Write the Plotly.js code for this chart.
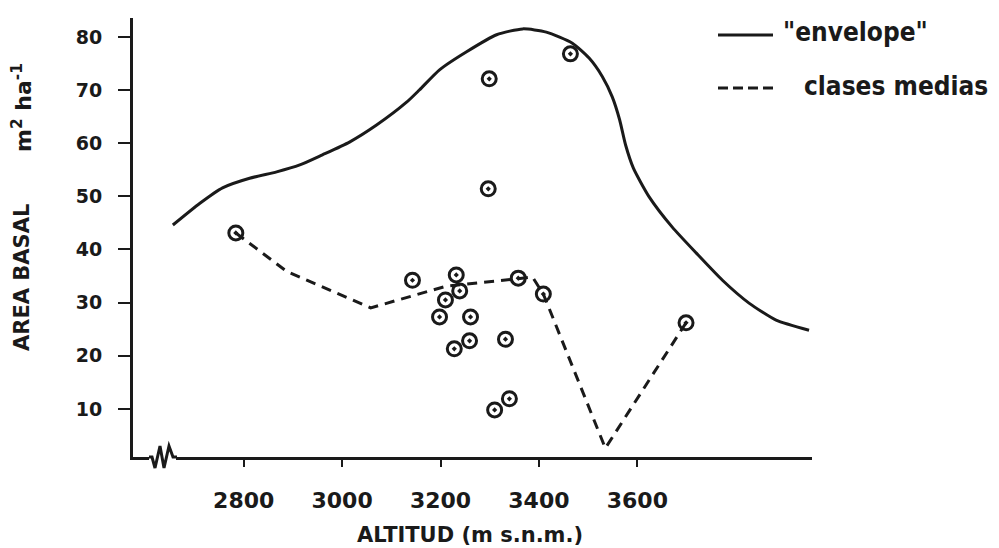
<!DOCTYPE html>
<html>
<head>
<meta charset="utf-8">
<script src="https://cdn.plot.ly/plotly-3.0.1.min.js"></script>
<style>html,body{margin:0;padding:0;background:#fff;}#chart{width:999px;height:548px;}</style>
</head>
<body>
<div id="chart"></div>
<script>
// "envelope" curve (altitude, basal area)
const envelopeX = [2656, 2711, 2757, 2812, 2867, 2914, 2960, 3015, 3070, 3131, 3157, 3198, 3253, 3314, 3367, 3415, 3468, 3502, 3529, 3549, 3564, 3576, 3592, 3624, 3671, 3720, 3773, 3827, 3882, 3949];
const envelopeY = [44.6, 48.7, 51.6, 53.4, 54.6, 55.9, 57.8, 60.2, 63.4, 67.7, 70.0, 73.8, 77.2, 80.4, 81.5, 80.9, 78.8, 76.0, 72.5, 68.7, 64.4, 59.7, 55.3, 49.9, 44.2, 39.3, 34.2, 29.9, 26.7, 24.8];

// "clases medias" dashed line
const mediasX = [2784, 2887, 3058, 3212, 3320, 3387, 3409, 3535, 3699];
const mediasY = [43.1, 35.9, 29.0, 33.1, 34.1, 34.8, 31.6, 2.6, 26.2];

// observed plots
const plotsX = [2784, 3299, 3464, 3297, 3143, 3232, 3239, 3210, 3198, 3261, 3358, 3409, 3228, 3259, 3332, 3340, 3310, 3699];
const plotsY = [43.1, 72.1, 76.8, 51.4, 34.2, 35.2, 32.2, 30.5, 27.3, 27.3, 34.6, 31.6, 21.3, 22.8, 23.1, 11.9, 9.8, 26.2];

const xTicks = [2800, 3000, 3200, 3400, 3600];
const yTicks = [10, 20, 30, 40, 50, 60, 70, 80];

const ink = '#1a1a1a';
const font = 'DejaVu Sans, sans-serif';

const traces = [
  {x: envelopeX, y: envelopeY, mode: 'lines', line: {color: ink, width: 3, shape: 'spline', smoothing: 0.6}, hoverinfo: 'skip'},
  {x: mediasX, y: mediasY, mode: 'lines', line: {color: ink, width: 3, dash: '10px,7px'}, hoverinfo: 'skip'},
  {x: plotsX, y: plotsY, mode: 'markers', marker: {symbol: 'circle-open-dot', size: 14, color: ink, line: {color: ink, width: 3}}, hoverinfo: 'skip'}
];

function px(x){ return (x-133)/679; }
function py(y){ return (457-y)/439; }

const layout = {
  width: 999, height: 548,
  margin: {l: 133, r: 187, t: 18, b: 91},
  paper_bgcolor: '#fff', plot_bgcolor: '#fff',
  showlegend: false,
  xaxis: {
    range: [2575, 3955], tickvals: xTicks, ticktext: xTicks.map(String),
    showline: true, linewidth: 3, linecolor: ink, zeroline: false, showgrid: false,
    ticks: 'outside', ticklen: 7, tickwidth: 2, tickcolor: ink,
    ticklabelstandoff: 15,
    tickfont: {family: font, size: 22, color: ink, weight: 'bold'}
  },
  yaxis: {
    range: [0.94, 83.55], tickvals: yTicks, ticktext: yTicks.map(String),
    showline: true, linewidth: 3, linecolor: ink, zeroline: false, showgrid: false,
    ticks: 'outside', ticklen: 12, tickwidth: 2, tickcolor: ink,
    ticklabelstandoff: 12,
    tickfont: {family: font, size: 19, color: ink, weight: 'bold'}
  },
  shapes: [
    // axis break
    {type: 'line', xref: 'paper', yref: 'paper', x0: px(149), x1: px(176), y0: 0, y1: 0, line: {color: '#fff', width: 6}, layer: 'above'},
    {type: 'path', xref: 'paper', yref: 'paper', layer: 'above',
     path: 'M ' + px(149) + ',' + py(457) + ' L ' + px(152) + ',' + py(457) + ' L ' + px(155) + ',' + py(468) + ' L ' + px(160) + ',' + py(446) + ' L ' + px(164) + ',' + py(468) + ' L ' + px(169) + ',' + py(446) + ' L ' + px(173) + ',' + py(457) + ' L ' + px(177) + ',' + py(457),
     line: {color: ink, width: 3}},
    // legend lines
    {type: 'line', xref: 'paper', yref: 'paper', x0: px(718), x1: px(773), y0: py(35), y1: py(35), line: {color: ink, width: 3}},
    {type: 'line', xref: 'paper', yref: 'paper', x0: px(718), x1: px(773), y0: py(88), y1: py(88), line: {color: ink, width: 3, dash: '10px,5px'}}
  ],
  annotations: [
    {xref: 'paper', yref: 'paper', x: px(781), y: py(32), xanchor: 'left', yanchor: 'middle', showarrow: false,
     text: '"envelope"', font: {family: 'DejaVu Sans Condensed, DejaVu Sans, sans-serif', size: 26, color: ink, weight: 'bold'}},
    {xref: 'paper', yref: 'paper', x: px(802), y: py(86), xanchor: 'left', yanchor: 'middle', showarrow: false,
     text: 'clases medias', font: {family: 'DejaVu Sans Condensed, DejaVu Sans, sans-serif', size: 26, color: ink, weight: 'bold'}},
    {xref: 'paper', yref: 'paper', x: px(470), y: py(535), xanchor: 'center', yanchor: 'middle', showarrow: false,
     text: 'ALTITUD (m s.n.m.)', font: {family: font, size: 21, color: ink, weight: 'bold'}},
    {xref: 'paper', yref: 'paper', x: px(22), y: py(278), xanchor: 'center', yanchor: 'middle', showarrow: false, textangle: -90,
     text: 'AREA BASAL', font: {family: font, size: 21, color: ink, weight: 'bold'}},
    {xref: 'paper', yref: 'paper', x: px(22), y: py(108), xanchor: 'center', yanchor: 'middle', showarrow: false, textangle: -90,
     text: 'm<sup>2</sup> ha<sup>-1</sup>', font: {family: font, size: 22, color: ink, weight: 'bold'}}
  ]
};

Plotly.newPlot('chart', traces, layout, {displayModeBar: false, staticPlot: true});
</script>
</body>
</html>
